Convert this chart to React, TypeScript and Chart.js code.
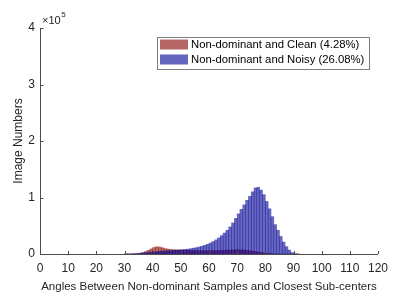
import React, { useEffect, useRef } from "react";
import { Chart, registerables } from "chart.js";

Chart.register(...registerables);

// bins of 1 degree, left edges starting at 30
const binStart = 30;
const cleanCounts = [
  0, 0, 100, 300, 700, 1400, 2600, 4300, 6500, 9000,
  11500, 12800, 12300, 11000, 9600, 8600, 8000, 7600, 7300, 7100,
  6900, 6700, 6500, 6300, 6100, 6000, 5900, 5800, 5800, 5800,
  5900, 6000, 6100, 6300, 6500, 6700, 6900, 7100, 7300, 7400,
  7400, 7300, 7000, 6600, 6000, 5300, 4500, 3700, 2900, 2100,
  1500, 1000, 600, 300, 150, 50, 0, 0, 0, 0, 0, 0,
];
const noisyCounts = [
  0, 100, 200, 400, 700, 1100, 1600, 2100, 2700, 3200,
  3700, 4200, 4600, 5000, 5400, 5800, 6200, 6500, 6800, 7100,
  7500, 8000, 8600, 9300, 10200, 11200, 12400, 13800, 15400, 17200,
  19500, 22000, 25000, 28500, 32500, 37000, 42000, 48000, 55000, 63000,
  71000, 79000, 87000, 95000, 102000, 110000, 117000, 118000, 113000, 105000,
  93000, 80000, 66000, 52000, 42000, 31000, 21000, 13000, 7000, 2500,
  300, 0,
];
const seriesLabels = [
  "Non-dominant and Clean (4.28%)",
  "Non-dominant and Noisy (26.08%)",
];
const xTicks = [0, 10, 20, 30, 40, 50, 60, 70, 80, 90, 100, 110, 120];
const yTicks = [0, 100000, 200000, 300000, 400000];

const RED = "rgba(135,0,0,0.6)";
const BLUE = "rgba(0,0,148,0.6)";
const AXIS = "#4d4d4d";
const FONT = "'Liberation Sans', Arial, sans-serif";

export default function App() {
  const ref = useRef<HTMLCanvasElement | null>(null);

  useEffect(() => {
    document.body.style.margin = "0";
    const canvas = ref.current;
    if (!canvas) return;
    const toXY = (arr: number[]) =>
      arr.map((v, i) => ({ x: binStart + i + 0.5, y: v }));

    const decor = {
      id: "decor",
      afterDraw(chart: any) {
        const ctx = chart.ctx;
        const xs = chart.scales.x;
        const ys = chart.scales.y;
        const area = chart.chartArea;
        ctx.save();
        ctx.strokeStyle = AXIS;
        ctx.lineWidth = 1;
        // axis lines
        ctx.beginPath();
        ctx.moveTo(area.left + 0.5, area.top);
        ctx.lineTo(area.left + 0.5, area.bottom + 0.5);
        ctx.lineTo(area.right, area.bottom + 0.5);
        ctx.stroke();
        // ticks inward
        ctx.beginPath();
        for (const t of xTicks) {
          const px = Math.round(xs.getPixelForValue(t)) + 0.5;
          ctx.moveTo(px, area.bottom);
          ctx.lineTo(px, area.bottom - 3);
        }
        for (const t of yTicks) {
          const py = Math.round(ys.getPixelForValue(t)) + 0.5;
          ctx.moveTo(area.left, py);
          ctx.lineTo(area.left + 3.5, py);
        }
        ctx.stroke();
        // exponent
        ctx.fillStyle = "#262626";
        ctx.textBaseline = "alphabetic";
        ctx.textAlign = "left";
        ctx.font = `11px ${FONT}`;
        ctx.fillText("\u00d710", area.left + 2, 23.5);
        const w = ctx.measureText("\u00d710").width;
        ctx.font = `8px ${FONT}`;
        ctx.fillText("5", area.left + 2 + w + 0.5, 16.5);
        // legend
        const bx = 157.5, by = 37.5, bw = 212, bh = 32;
        ctx.fillStyle = "#ffffff";
        ctx.fillRect(bx, by, bw, bh);
        ctx.strokeStyle = "#7f7f7f";
        ctx.strokeRect(bx, by, bw, bh);
        const colors = [RED, BLUE];
        ctx.font = `11.3px ${FONT}`;
        ctx.textBaseline = "middle";
        for (let i = 0; i < 2; i++) {
          const cy = 44.5 + i * 15;
          ctx.fillStyle = colors[i];
          ctx.fillRect(160, cy - 5, 28, 10);
          ctx.fillStyle = "#000000";
          ctx.fillText(seriesLabels[i], 191, cy + 0.5);
        }
        ctx.restore();
      },
    };

    const chart = new Chart(canvas, {
      type: "bar",
      data: {
        datasets: [
          {
            label: seriesLabels[0],
            data: toXY(cleanCounts),
            backgroundColor: RED,
            borderWidth: 0,
            barPercentage: 1,
            categoryPercentage: 1,
            grouped: false,
            order: 2,
          },
          {
            label: seriesLabels[1],
            data: toXY(noisyCounts),
            backgroundColor: BLUE,
            borderWidth: 0,
            barPercentage: 1,
            categoryPercentage: 1,
            grouped: false,
            order: 1,
          },
        ] as any,
      },
      options: {
        animation: false,
        responsive: false,
        maintainAspectRatio: false,
        layout: { padding: { top: 28, right: 21, left: 0, bottom: 0 } },
        plugins: { legend: { display: false }, tooltip: { enabled: false } },
        scales: {
          x: {
            type: "linear",
            min: 0,
            max: 120,
            offset: false,
            grid: { display: false, offset: false, drawTicks: false },
            border: { display: false },
            afterBuildTicks: (s: any) => {
              s.ticks = xTicks.map((v) => ({ value: v }));
            },
            ticks: {
              autoSkip: false,
              maxRotation: 0,
              padding: 7,
              color: "#262626",
              font: { family: FONT, size: 12 },
            },
            title: {
              display: true,
              text: "Angles Between Non-dominant Samples and Closest Sub-centers",
              color: "#262626",
              font: { family: FONT, size: 11.5 },
              padding: { top: 0, bottom: 5 },
            },
            afterFit: (s: any) => {
              s.height = 45;
            },
          },
          y: {
            min: 0,
            max: 400000,
            grid: { display: false, drawTicks: false },
            border: { display: false },
            afterBuildTicks: (s: any) => {
              s.ticks = yTicks.map((v) => ({ value: v }));
            },
            ticks: {
              padding: 5,
              color: "#262626",
              font: { family: FONT, size: 12 },
              callback: (v: any) => String(Number(v) / 100000),
            },
            title: {
              display: true,
              text: "Image Numbers",
              color: "#262626",
              font: { family: FONT, size: 12 },
              padding: { top: 11, bottom: 0 },
            },
            afterFit: (s: any) => {
              s.width = 40;
            },
          },
        },
      } as any,
      plugins: [decor],
    });
    return () => chart.destroy();
  }, []);

  return <canvas ref={ref} width={399} height={299} style={{ display: "block" }} />;
}
